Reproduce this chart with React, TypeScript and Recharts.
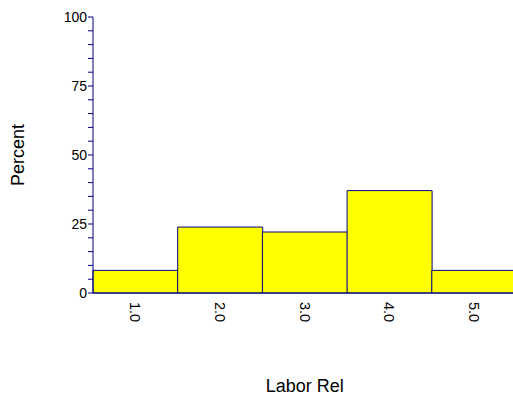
import React from 'react';
import { BarChart, Bar, XAxis, YAxis, Label } from 'recharts';

// Percent of records in each Labor Rel bin
const categories = ['1.0', '2.0', '3.0', '4.0', '5.0'];
const percents = [8.2, 23.9, 22.1, 37.1, 8.2];
const yTicks = [0, 5, 10, 15, 20, 25, 30, 35, 40, 45, 50, 55, 60, 65, 70, 75, 80, 85, 90, 95, 100];
const yLabelTicks = [0, 25, 50, 75, 100];

const data = categories.map((c, i) => ({ bin: c, percent: percents[i] }));

const NAVY = '#000080';
const FONT = '"Liberation Sans", Arial, sans-serif';

function YTick(props: any) {
  const { x, y, payload } = props;
  if (!yLabelTicks.includes(payload.value)) return null;
  return (
    <text x={x} y={y} textAnchor="end" dominantBaseline="central" fontSize={14} fontFamily={FONT} fill="#000">
      {payload.value}
    </text>
  );
}

function XTick(props: any) {
  const { x, y, payload } = props;
  return (
    <text
      x={x}
      y={y + 1}
      transform={`rotate(90, ${x}, ${y + 1})`}
      textAnchor="start"
      dominantBaseline="central"
      fontSize={14.5}
      fontFamily={FONT}
      fill="#000"
    >
      {payload.value}
    </text>
  );
}

export default function App() {
  return (
    <div style={{ width: 513, height: 396, overflow: 'hidden', background: '#fff' }}>
      <style>{'body{margin:0;overflow:hidden}'}</style>
      <BarChart
        width={524}
        height={396}
        data={data}
        margin={{ top: 17, right: 7.5, bottom: 0, left: 0 }}
        barCategoryGap={0}
        barGap={0}
      >
        <XAxis
          dataKey="bin"
          height={103}
          axisLine={{ stroke: NAVY }}
          tickLine={false}
          tick={<XTick />}
          interval={0}
        >
          <Label
            value="Labor Rel"
            position="insideBottom"
            offset={4}
            style={{ fontSize: 18, fontFamily: FONT, fill: '#000' }}
          />
        </XAxis>
        <YAxis
          width={93}
          domain={[0, 100]}
          ticks={yTicks}
          interval={0}
          tickSize={5}
          tickMargin={1}
          axisLine={{ stroke: NAVY }}
          tickLine={{ stroke: NAVY }}
          tick={<YTick />}
        >
          <Label
            content={(p: any) => {
              const vb = p.viewBox;
              const cy = vb.y + vb.height / 2;
              return (
                <text
                  x={24}
                  y={cy}
                  transform={`rotate(-90, 24, ${cy})`}
                  textAnchor="middle"
                  fontSize={18}
                  fontFamily={FONT}
                  fill="#000"
                >
                  Percent
                </text>
              );
            }}
          />
        </YAxis>
        <Bar dataKey="percent" fill="#FFFF00" stroke={NAVY} strokeWidth={1} isAnimationActive={false} />
      </BarChart>
    </div>
  );
}
